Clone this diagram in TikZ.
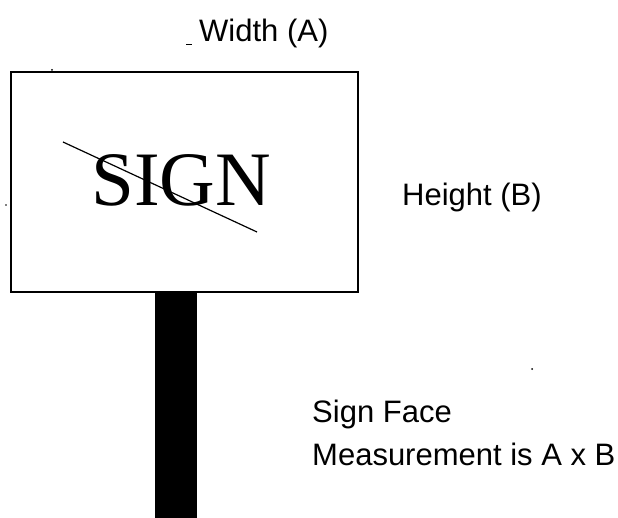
\documentclass[tikz,border=0pt]{standalone}
\usepackage{fontspec}
\setmainfont{Liberation Sans}
\newfontfamily\signserif{Liberation Serif}
\begin{document}
\begin{tikzpicture}[x=1pt,y=-1pt,
  lbl/.style={anchor=base west, inner sep=0pt, font=\fontsize{31}{43}\selectfont},
  speck/.style={fill=black}]
\useasboundingbox (0,0) rectangle (618,518);
\fill[white] (0,0) rectangle (618,518);
% post
\fill[black] (155,290) rectangle (197,518);
% sign board
\node[draw, line width=2pt, fill=white, minimum width=347pt, minimum height=220pt, inner sep=0pt, anchor=north west] (board) at (10,71) {};
% sign text
\node[anchor=base west, inner sep=0pt, font=\signserif\fontsize{77}{80}\selectfont] (signword) at (91,206) {SIGN};
\coordinate (s1) at (63,142);
\coordinate (s2) at (257,232);
\draw[line width=1.2pt] (s1) -- (s2);
% labels
\node[lbl] (width) at (199,42) {Width (A)};
\node[lbl] (height) at (402,206) {Height (B)};
\node[lbl] (face1) at (312,422) {Sign Face};
\node[lbl] (face2) at (312,465) {Measurement is A x B};
% small marks
\draw[line width=1.5pt] (186,44.5) -- (192,44.5);
\fill[speck] (52,70) circle (1pt);
\fill[speck] (6,205) circle (0.8pt);
\fill[speck] (532,369) circle (1pt);
\end{tikzpicture}
\end{document}
